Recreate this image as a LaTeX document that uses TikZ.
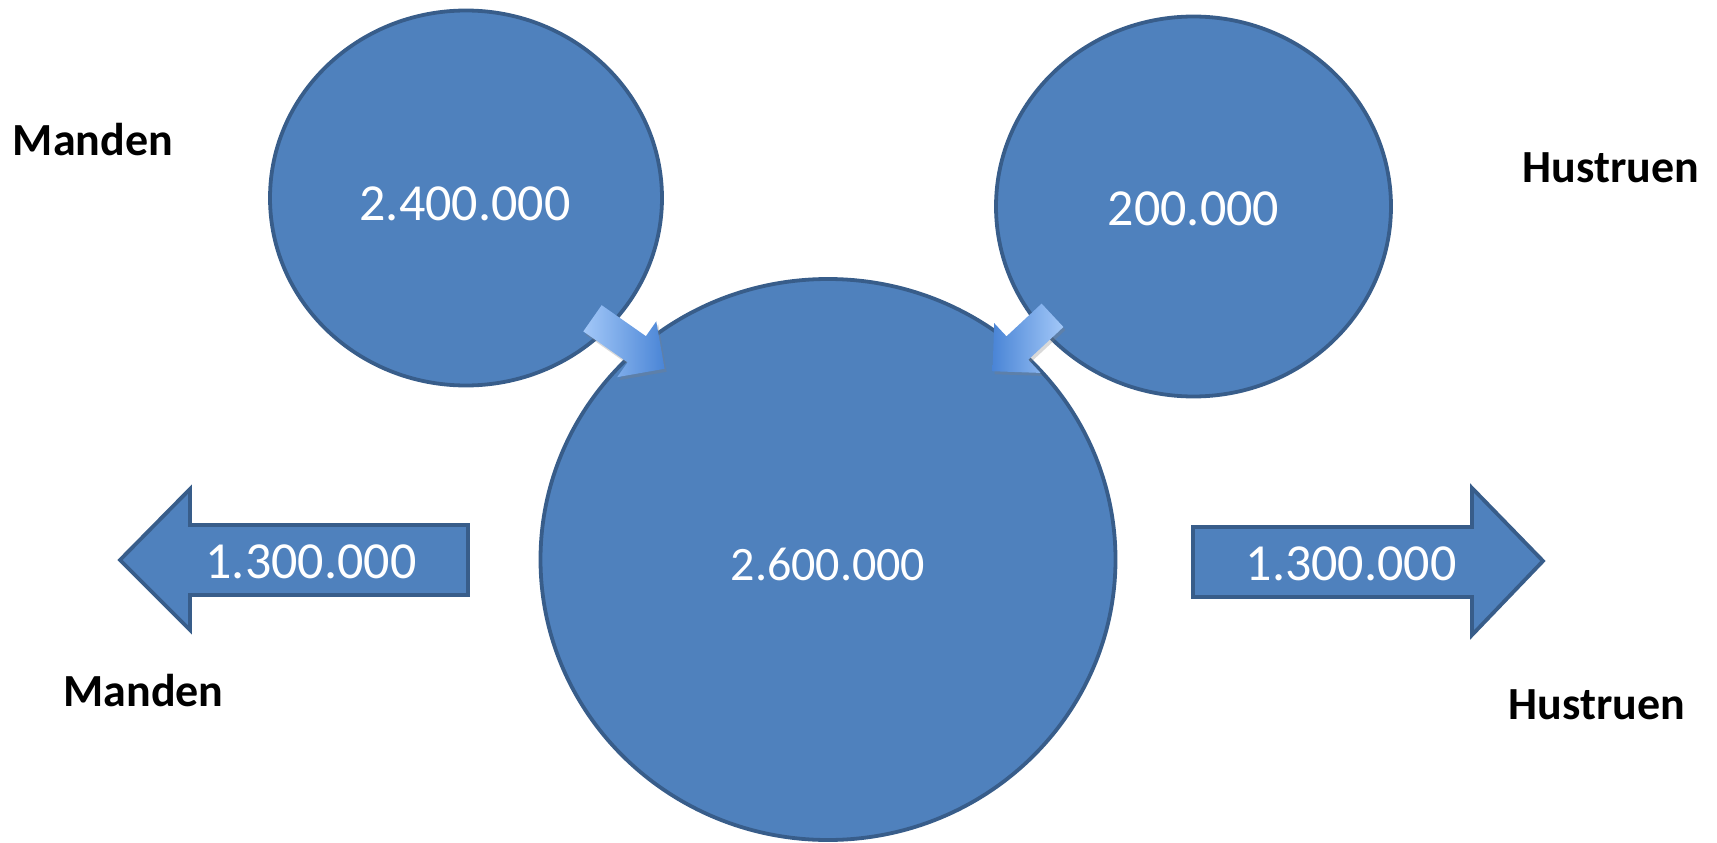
\documentclass[tikz,border=0pt]{standalone}
\usepackage{fontspec}
\setmainfont{Carlito}
\usetikzlibrary{shapes.geometric,shadows}
\definecolor{fillblue}{HTML}{4F81BD}
\definecolor{lineblue}{HTML}{385D8A}
\definecolor{lightarrow}{HTML}{A3C8F8}
\definecolor{darkarrow}{HTML}{4A85D6}
\begin{document}
\begin{tikzpicture}[x=1pt,y=-1pt,
  blob/.style={ellipse, draw=lineblue, fill=fillblue, line width=3.8pt, inner sep=0pt},
  num/.style={text=white, inner sep=0pt, font=\fontsize{52}{60}\selectfont},
  lbl/.style={inner sep=0pt, font=\bfseries\fontsize{46}{54}\selectfont},
  bigarrow/.style={draw=lineblue, fill=fillblue, line width=3.8pt, line join=miter},
  smallarrow/.style={draw=none,
    drop shadow={opacity=0.3, shadow xshift=2pt, shadow yshift=-3pt}}]
\useasboundingbox (0,0) rectangle (1717,843);
% circles
\node[blob, minimum width=392pt, minimum height=375pt] (manE) at (466,198) {};
\node[blob, minimum width=395pt, minimum height=380pt] (husE) at (1193.5,206.5) {};
\node[blob, minimum width=575pt, minimum height=561pt] (pool) at (828,559.5) {};
% big arrows
\draw[bigarrow] (120,560) -- (190,489) -- (190,525) -- (468,525) -- (468,595) -- (190,595) -- (190,630) -- cycle;
\draw[bigarrow] (1543,561) -- (1472,488) -- (1472,527) -- (1193,527) -- (1193,597) -- (1472,597) -- (1472,635) -- cycle;
% small arrows
\coordinate (a1) at (592.5,318.3);
\coordinate (a2) at (1052.5,315.3);
\begin{scope}[shift={(a1)}, rotate=-35]
  \path[smallarrow, left color=lightarrow, right color=darkarrow] (0,-16) -- (54,-16) -- (54,-34) -- (88,0) -- (54,34) -- (54,16) -- (0,16) -- cycle;
\end{scope}
\begin{scope}[shift={(a2)}, rotate=-137]
  \path[smallarrow, left color=darkarrow, right color=lightarrow] (0,-16) -- (48,-16) -- (48,-34) -- (82,0) -- (48,34) -- (48,16) -- (0,16) -- cycle;
\end{scope}
% numbers
\node[num] (t1) at (465,204) {2.400.000};
\node[num] (t2) at (1193.5,209) {200.000};
\node[num, font=\fontsize{48}{56}\selectfont] (t3) at (828,564) {2.600.000};
\node[num] (t4) at (311,562) {1.300.000};
\node[num] (t5) at (1351,564) {1.300.000};
% labels
\node[lbl] (l1) at (93,140) {Manden};
\node[lbl] (l2) at (1611,168) {Hustruen};
\node[lbl] (l3) at (143.5,691) {Manden};
\node[lbl] (l4) at (1597,705) {Hustruen};
\end{tikzpicture}
\end{document}
